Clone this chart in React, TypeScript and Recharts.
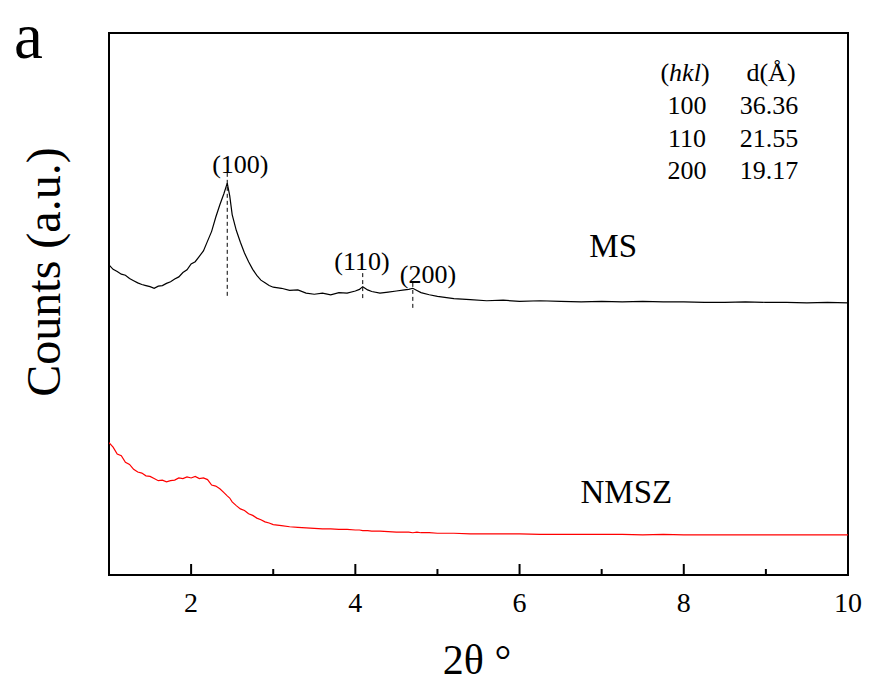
import React from 'react';
import { LineChart, Line, XAxis, YAxis, ReferenceArea, ReferenceLine, ReferenceDot } from 'recharts';

const FONT = '"Liberation Serif", "Times New Roman", serif';

const twoTheta = [
  1.0, 1.05, 1.1, 1.15, 1.2, 1.25, 1.3, 1.35, 1.4, 1.45, 1.5, 1.55, 1.6, 1.65, 1.7, 1.75, 1.8, 1.85, 1.9, 1.95,
  2.0, 2.05, 2.1, 2.15, 2.2, 2.25, 2.3, 2.35, 2.4, 2.44, 2.47, 2.5, 2.55, 2.6, 2.65, 2.7, 2.75, 2.8, 2.85, 2.9, 2.95,
  3.0, 3.1, 3.2, 3.3, 3.4, 3.5, 3.6, 3.7, 3.8, 3.9, 4.0, 4.05, 4.09, 4.15, 4.2, 4.3, 4.4, 4.5, 4.6, 4.65, 4.7, 4.75,
  4.8, 4.9, 5.0, 5.2, 5.4, 5.6, 5.8, 6.0, 6.25, 6.5, 6.75, 7.0, 7.25, 7.5, 7.75, 8.0, 8.25, 8.5, 8.75, 9.0, 9.25,
  9.5, 9.75, 10.0,
];

const msCounts = [
  57.2, 56.4, 56.0, 55.5, 55.3, 54.7, 54.3, 53.9, 53.6, 53.4, 53.2, 52.9, 53.3, 53.4, 53.8, 54.1, 54.6, 55.0, 55.8, 56.3,
  57.4, 57.8, 58.8, 59.8, 61.6, 63.4, 66.0, 68.3, 70.4, 72.3, 70.0, 66.5, 63.6, 61.4, 59.4, 57.8, 56.4, 55.3, 54.4, 53.9, 53.4,
  53.1, 52.9, 52.5, 52.6, 52.0, 51.8, 52.0, 51.7, 52.1, 52.0, 52.4, 52.7, 53.2, 52.6, 52.3, 52.0, 52.2, 52.4, 52.6, 52.7, 52.9, 52.5,
  52.1, 51.7, 51.4, 51.0, 50.8, 50.6, 50.7, 50.5, 50.6, 50.5, 50.4, 50.5, 50.4, 50.5, 50.4, 50.4, 50.3, 50.3, 50.4, 50.3, 50.3,
  50.2, 50.3, 50.2,
];

const nmszCounts = [
  24.4, 23.6, 22.3, 22.0, 20.8, 20.4, 19.5, 19.0, 18.8, 18.3, 18.2, 17.8, 17.4, 17.5, 17.2, 17.4, 17.5, 17.9, 17.8, 18.1,
  17.9, 18.2, 17.8, 17.9, 17.6, 16.6, 16.4, 15.9, 15.2, 14.6, 14.2, 13.5, 12.8, 12.2, 11.9, 11.3, 11.0, 10.5, 10.2, 9.8, 9.6,
  9.3, 9.1, 8.9, 8.8, 8.7, 8.6, 8.5, 8.5, 8.4, 8.4, 8.3, 8.3, 8.2, 8.2, 8.1, 8.1, 8.0, 7.9, 7.9, 7.9, 7.8, 7.9,
  7.8, 7.8, 7.7, 7.7, 7.6, 7.6, 7.6, 7.6, 7.5, 7.5, 7.5, 7.5, 7.5, 7.4, 7.5, 7.4, 7.4, 7.4, 7.4, 7.4, 7.4,
  7.4, 7.4, 7.4,
];

const xTicks = [2, 3, 4, 5, 6, 7, 8, 9, 10];

const peakLabels = ['(100)', '(110)', '(200)'];
const peakPositions = [2.44, 4.09, 4.7];
const peakLineTops = [74.2, 55.7, 53.9];
const peakLineBottoms = [51.1, 50.7, 48.9];
const peakLabelX = [2.6, 4.08, 4.885];
const peakLabelY = [75.8, 57.9, 55.5];

const seriesNames = ['MS', 'NMSZ'];
const seriesLabelX = [7.14, 7.3];
const seriesLabelY = [60.9, 15.5];

const hklValues = ['100', '110', '200'];
const dValues = ['36.36', '21.55', '19.17'];

const data = twoTheta.map((x, i) => ({ x, ms: msCounts[i], nmsz: nmszCounts[i] }));

const XTick = (props: any) => {
  const { x, y, payload } = props;
  const major = payload.value % 2 === 0;
  return (
    <g>
      <line x1={x} x2={x} y1={y} y2={y - (major ? 11 : 6)} stroke="#000" strokeWidth={2} />
      {major && (
        <text x={x} y={y + 37} textAnchor="middle" fontSize={28} fontFamily={FONT} fill="#000">
          {payload.value}
        </text>
      )}
    </g>
  );
};

export default function App() {
  return (
    <div style={{ position: 'absolute', left: 0, top: 0, width: 869, height: 684, background: '#fff' }}>
      <LineChart
        width={869}
        height={684}
        data={data}
        margin={{ top: 33, right: 21, bottom: 79, left: 109 }}
      >
        <XAxis
          dataKey="x"
          type="number"
          domain={[1, 10]}
          ticks={xTicks}
          interval={0}
          allowDataOverflow
          axisLine={false}
          tickLine={false}
          tickSize={0}
          tickMargin={0}
          height={30}
          tick={<XTick />}
        />
        <YAxis type="number" domain={[0, 100]} hide allowDataOverflow />
        <ReferenceArea x1={1} x2={10} y1={0} y2={100} fill="none" stroke="#000" strokeWidth={2} fillOpacity={0} ifOverflow="visible" />
        {peakPositions.map((p, i) => (
          <ReferenceLine
            key={'pl' + i}
            segment={[{ x: p, y: peakLineTops[i] }, { x: p, y: peakLineBottoms[i] }]}
            stroke="#000"
            strokeWidth={1}
            strokeDasharray="4 3"
            ifOverflow="visible"
          />
        ))}
        <Line type="linear" dataKey="ms" stroke="#000" strokeWidth={1.2} dot={false} isAnimationActive={false} />
        <Line type="linear" dataKey="nmsz" stroke="#ff0000" strokeWidth={1.2} dot={false} isAnimationActive={false} />
        {peakLabels.map((t, i) => (
          <ReferenceDot
            key={'plab' + i}
            x={peakLabelX[i]}
            y={peakLabelY[i]}
            r={0}
            fill="none"
            stroke="none"
            ifOverflow="visible"
            label={{ value: t, position: 'center', fontSize: 26, fontFamily: FONT, fill: '#000' }}
          />
        ))}
        {seriesNames.map((t, i) => (
          <ReferenceDot
            key={'sn' + i}
            x={seriesLabelX[i]}
            y={seriesLabelY[i]}
            r={0}
            fill="none"
            stroke="none"
            ifOverflow="visible"
            label={{ value: t, position: 'center', fontSize: 33, fontFamily: FONT, fill: '#000' }}
          />
        ))}
      </LineChart>
      <svg width={869} height={684} style={{ position: 'absolute', left: 0, top: 0, pointerEvents: 'none' }}>
        <g fontFamily={FONT} fill="#000">
          <text x={14} y={58} fontSize={65}>a</text>
          <text x={60} y={272} fontSize={48} textAnchor="middle" transform="rotate(-90 60 272)">Counts (a.u.)</text>
          <text x={477} y={674} fontSize={42} textAnchor="middle">2θ °</text>
          <text x={685} y={81} fontSize={26} textAnchor="middle">
            (<tspan fontStyle="italic">hkl</tspan>)
          </text>
          <text x={771} y={81} fontSize={26} textAnchor="middle">d(Å)</text>
          {hklValues.map((h, i) => (
            <text key={'h' + i} x={687} y={114 + i * 32.5} fontSize={26} textAnchor="middle">{h}</text>
          ))}
          {dValues.map((d, i) => (
            <text key={'d' + i} x={769} y={114 + i * 32.5} fontSize={26} textAnchor="middle">{d}</text>
          ))}
        </g>
      </svg>
    </div>
  );
}
